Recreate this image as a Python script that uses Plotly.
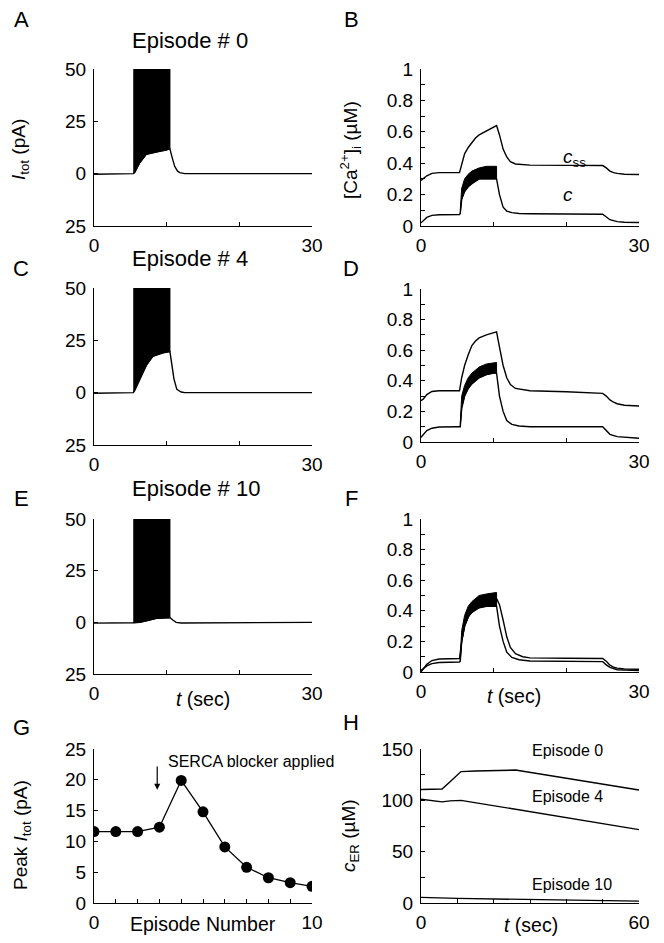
import plotly.graph_objects as go

# ------------------------------------------------------------------ data
# Panels A, C, E : total current I_tot (pA) vs time t (sec)
t_I_A = [0, 5.3, 5.4, 5.6, 6.3, 7.2, 8.6, 10.0, 10.45, 10.7, 11.1, 11.5, 11.8, 12.5, 25.0, 25.2, 30.0]
I_A = [-0.3, -0.3, 0, 0.5, 5.2, 9.2, 10.3, 11.2, 11.9, 8.4, 3.5, 1.2, 0.5, 0, 0, 0, 0]
burst_t_A = [5.4, 5.6, 6.3, 7.2, 8.6, 10.0, 10.45]
burst_trough_A = [0, 0.5, 5.2, 9.2, 10.3, 11.2, 11.9]
burst_peak_A = [60, 60, 60, 60, 60, 60, 60]

t_I_C = [0, 5.3, 5.4, 5.6, 6.3, 7.2, 8.1, 9.5, 10.45, 10.7, 11.0, 11.4, 12.0, 12.5, 25.0, 25.2, 30.0]
I_C = [-0.3, -0.3, 0, 1.0, 6.6, 13.0, 17.4, 19.0, 19.6, 14.5, 6.6, 1.6, 0.3, 0, 0, 0, 0]
burst_t_C = [5.4, 5.6, 6.3, 7.2, 8.1, 9.5, 10.45]
burst_trough_C = [0, 1.0, 6.6, 13.0, 17.4, 19.0, 19.6]
burst_peak_C = [60, 60, 60, 60, 60, 60, 60]

t_I_E = [0, 5.3, 5.4, 6.3, 7.2, 8.6, 10.0, 10.45, 10.9, 11.3, 12.0, 25.0, 25.2, 30.0]
I_E = [-0.4, -0.4, -0.2, 0, 0.6, 1.9, 2.2, 2.2, 1.0, 0, -0.3, -0.3, 0, 0]
burst_t_E = [5.4, 6.3, 7.2, 8.6, 10.0, 10.45]
burst_trough_E = [-0.2, 0, 0.6, 1.9, 2.2, 2.2]
burst_peak_E = [60, 60, 60, 60, 60, 60]

# Panels B, D, F : [Ca2+]i (uM) vs time t (sec)
t_css = [0, 0.3, 0.8, 1.5, 2.5, 5.3, 5.6, 6.0, 6.5, 7.0, 7.5, 8.0, 9.0, 10.0, 10.4, 10.8,
         11.3, 11.8, 12.3, 13.0, 14.0, 15.0, 20.0, 25.0, 25.5, 26.0, 26.5, 27.0, 28.0, 30.0]
css_B = [0.29, 0.30, 0.32, 0.335, 0.34, 0.34, 0.40, 0.46, 0.50, 0.53, 0.56, 0.58, 0.605, 0.625, 0.64, 0.58,
         0.49, 0.44, 0.41, 0.395, 0.39, 0.388, 0.386, 0.385, 0.37, 0.35, 0.34, 0.335, 0.33, 0.328]
css_D = [0.27, 0.28, 0.31, 0.33, 0.335, 0.335, 0.42, 0.50, 0.57, 0.63, 0.66, 0.68, 0.70, 0.715, 0.72, 0.62,
         0.50, 0.42, 0.375, 0.35, 0.34, 0.335, 0.328, 0.318, 0.30, 0.275, 0.26, 0.25, 0.24, 0.235]
css_F = [0.0, 0.02, 0.05, 0.075, 0.085, 0.088, 0.20, 0.30, 0.36, 0.40, 0.42, 0.44, 0.46, 0.47, 0.48, 0.44,
         0.34, 0.23, 0.16, 0.12, 0.10, 0.092, 0.09, 0.088, 0.07, 0.045, 0.032, 0.025, 0.02, 0.018]

t_c = [0, 0.3, 0.8, 1.5, 2.5, 5.3, 5.4, 5.6, 6.0, 6.5, 7.0, 8.0, 9.0, 10.0, 10.4, 10.8,
       11.3, 11.8, 12.5, 13.5, 15.0, 25.0, 25.4, 26.0, 27.0, 28.0, 30.0]
c_B = [0.02, 0.035, 0.055, 0.068, 0.072, 0.073, 0.08, 0.17, 0.22, 0.25, 0.27, 0.30, 0.30, 0.30, 0.30, 0.20,
       0.12, 0.095, 0.085, 0.08, 0.078, 0.075, 0.06, 0.04, 0.028, 0.024, 0.022]
c_D = [0.03, 0.05, 0.075, 0.09, 0.098, 0.10, 0.10, 0.22, 0.30, 0.35, 0.38, 0.42, 0.44, 0.45, 0.45, 0.30,
       0.20, 0.14, 0.115, 0.105, 0.10, 0.10, 0.08, 0.05, 0.035, 0.03, 0.025]
c_F = [0.01, 0.02, 0.04, 0.055, 0.062, 0.065, 0.07, 0.20, 0.30, 0.36, 0.39, 0.42, 0.43, 0.43, 0.43, 0.30,
       0.20, 0.13, 0.095, 0.08, 0.072, 0.068, 0.05, 0.03, 0.015, 0.012, 0.01]

# oscillation envelope of c during the burst
band_t = [5.4, 5.6, 6.0, 6.5, 7.0, 8.0, 9.0, 10.0, 10.4]
c_hi_B = [0.10, 0.24, 0.30, 0.33, 0.35, 0.37, 0.38, 0.38, 0.38]
c_lo_B = [0.08, 0.17, 0.22, 0.25, 0.27, 0.30, 0.30, 0.30, 0.30]
c_hi_D = [0.12, 0.30, 0.37, 0.42, 0.45, 0.49, 0.51, 0.52, 0.52]
c_lo_D = [0.10, 0.22, 0.30, 0.35, 0.38, 0.42, 0.44, 0.45, 0.45]
c_hi_F = [0.09, 0.27, 0.37, 0.43, 0.46, 0.50, 0.51, 0.52, 0.52]
c_lo_F = [0.07, 0.20, 0.30, 0.36, 0.39, 0.42, 0.43, 0.43, 0.43]

# Panel G : peak I_tot per episode
episodes = [0, 1, 2, 3, 4, 5, 6, 7, 8, 9, 10]
peak_I = [11.6, 11.6, 11.6, 12.3, 19.9, 14.8, 9.1, 5.8, 4.1, 3.3, 2.7]

# Panel H : c_ER (uM) vs time
t_ep0 = [0, 5.8, 8, 11, 15, 26, 60]
cER_ep0 = [110.5, 111, 118, 128, 128.5, 129.5, 110]
t_ep4 = [0, 3, 5.8, 8, 11, 60]
cER_ep4 = [101, 99.5, 98.5, 99.5, 100, 71.5]
t_ep10 = [0, 10, 60]
cER_ep10 = [5.5, 4.5, 1.8]

# tick labels (labelled ticks) and unlabelled minor ticks
I_ticks = [-25, 0, 25, 50]
I_ticktext = ["25", "0", "25", "50"]
t30_ticks = [0, 30]
t30_ticktext = ["0", "30"]
t30_minor = [10, 20]
ca_ticks = [0, 0.2, 0.4, 0.6, 0.8, 1]
ca_ticktext = ["0", "0.2", "0.4", "0.6", "0.8", "1"]
ca_minor = [0.1, 0.3, 0.5, 0.7, 0.9]
ep_ticks = [0, 10]
ep_ticktext = ["0", "10"]
ep_minor = [1, 2, 3, 4, 5, 6, 7, 8, 9]
peak_ticks = [0, 5, 10, 15, 20, 25]
t60_ticks = [0, 60]
t60_ticktext = ["0", "60"]
t60_minor = [10, 20, 30, 40, 50]
cer_ticks = [0, 50, 100, 150]
cer_minor = [25, 75, 125]

# ------------------------------------------------------------------ layout helpers
W, H = 664, 943
FONT = "Liberation Sans, Arial, Helvetica, sans-serif"
TICK_FS = 19


def px_x(p):
    return p / W


def px_y(p):
    return 1 - p / H


# pixel boxes (left, right, top, bottom)
boxes = {
    "A": (94, 312, 69, 226),
    "B": (421, 639, 69, 226),
    "C": (94, 312, 288, 445),
    "D": (421, 639, 289, 442),
    "E": (94, 312, 519, 674),
    "F": (421, 639, 519, 672),
    "G": (94, 312, 749, 903),
    "H": (421, 639, 749, 903),
}
axis_ids = {"A": "", "B": "2", "C": "3", "D": "4", "E": "5", "F": "6", "G": "7", "H": "8"}


def minor_ticks(vals):
    return dict(tickmode="array", tickvals=vals, ticks="inside", ticklen=4,
                tickwidth=1, tickcolor="black", showgrid=False)


def make_x(panel, rng, tickvals, ticktext, minor=None):
    l, r, t, b = boxes[panel]
    d = dict(domain=[px_x(l), px_x(r)], range=rng, anchor="y" + axis_ids[panel],
             tickmode="array", tickvals=tickvals, ticktext=ticktext,
             ticks="inside", ticklen=4, tickwidth=1, tickcolor="black",
             showline=True, linecolor="black", linewidth=1, automargin=False,
             showgrid=False, zeroline=False, fixedrange=True, ticklabelstandoff=2,
             tickfont=dict(family=FONT, size=TICK_FS, color="black"))
    if minor is not None:
        d["minor"] = minor_ticks(minor)
    return d


def make_y(panel, rng, tickvals, ticktext, minor=None):
    l, r, t, b = boxes[panel]
    d = dict(domain=[px_y(b), px_y(t)], range=rng, anchor="x" + axis_ids[panel],
             tickmode="array", tickvals=tickvals, ticktext=ticktext,
             ticks="inside", ticklen=4, tickwidth=1, tickcolor="black",
             showline=True, linecolor="black", linewidth=1, automargin=False,
             showgrid=False, zeroline=False, fixedrange=True, ticklabelstandoff=3,
             tickfont=dict(family=FONT, size=TICK_FS, color="black"))
    if minor is not None:
        d["minor"] = minor_ticks(minor)
    return d


fig = go.Figure()
LINE = dict(color="black", width=1.4)


def ax(panel):
    return dict(xaxis="x" + axis_ids[panel], yaxis="y" + axis_ids[panel])


# I_tot panels
for panel, tt, ii, bt, btr, bpk in [("A", t_I_A, I_A, burst_t_A, burst_trough_A, burst_peak_A),
                                    ("C", t_I_C, I_C, burst_t_C, burst_trough_C, burst_peak_C),
                                    ("E", t_I_E, I_E, burst_t_E, burst_trough_E, burst_peak_E)]:
    fig.add_trace(go.Scatter(x=bt + bt[::-1], y=bpk + btr[::-1], mode="lines", fill="toself",
                             fillcolor="black", line=dict(color="black", width=1),
                             showlegend=False, hoverinfo="skip", **ax(panel)))
    fig.add_trace(go.Scatter(x=tt, y=ii, mode="lines", line=LINE, showlegend=False, **ax(panel)))

# Ca panels
for panel, css, cc, chi, clo in [("B", css_B, c_B, c_hi_B, c_lo_B),
                                 ("D", css_D, c_D, c_hi_D, c_lo_D),
                                 ("F", css_F, c_F, c_hi_F, c_lo_F)]:
    fig.add_trace(go.Scatter(x=t_css, y=css, mode="lines", line=LINE, showlegend=False, **ax(panel)))
    fig.add_trace(go.Scatter(x=t_c, y=cc, mode="lines", line=LINE, showlegend=False, **ax(panel)))
    fig.add_trace(go.Scatter(x=band_t + band_t[::-1], y=chi + clo[::-1], mode="lines", fill="toself",
                             fillcolor="black", line=dict(color="black", width=1),
                             showlegend=False, hoverinfo="skip", **ax(panel)))

# G
fig.add_trace(go.Scatter(x=episodes, y=peak_I, mode="lines+markers", line=dict(color="black", width=1.3),
                         marker=dict(color="black", size=11), showlegend=False, **ax("G")))

# H
for tt, vv in [(t_ep0, cER_ep0), (t_ep4, cER_ep4), (t_ep10, cER_ep10)]:
    fig.add_trace(go.Scatter(x=tt, y=vv, mode="lines", line=LINE, showlegend=False, **ax("H")))

layout = dict(width=W, height=H, margin=dict(l=0, r=0, t=0, b=0, pad=0), autosize=False,
              paper_bgcolor="white", plot_bgcolor="white",
              font=dict(family=FONT, color="black"), showlegend=False)

layout["xaxis"] = make_x("A", [0, 30], t30_ticks, t30_ticktext, t30_minor)
layout["yaxis"] = make_y("A", [-25, 50], I_ticks, I_ticktext)
layout["xaxis2"] = make_x("B", [0, 30], t30_ticks, t30_ticktext, t30_minor)
layout["yaxis2"] = make_y("B", [0, 1], ca_ticks, ca_ticktext, ca_minor)
layout["xaxis3"] = make_x("C", [0, 30], t30_ticks, t30_ticktext, t30_minor)
layout["yaxis3"] = make_y("C", [-25, 50], I_ticks, I_ticktext)
layout["xaxis4"] = make_x("D", [0, 30], t30_ticks, t30_ticktext, t30_minor)
layout["yaxis4"] = make_y("D", [0, 1], ca_ticks, ca_ticktext, ca_minor)
layout["xaxis5"] = make_x("E", [0, 30], t30_ticks, t30_ticktext, t30_minor)
layout["yaxis5"] = make_y("E", [-25, 50], I_ticks, I_ticktext)
layout["xaxis6"] = make_x("F", [0, 30], t30_ticks, t30_ticktext, t30_minor)
layout["yaxis6"] = make_y("F", [0, 1], ca_ticks, ca_ticktext, ca_minor)
layout["xaxis7"] = make_x("G", [0, 10], ep_ticks, ep_ticktext, ep_minor)
layout["yaxis7"] = make_y("G", [0, 25], peak_ticks, [str(v) for v in peak_ticks])
layout["xaxis8"] = make_x("H", [0, 60], t60_ticks, t60_ticktext, t60_minor)
layout["yaxis8"] = make_y("H", [0, 150], cer_ticks, [str(v) for v in cer_ticks], cer_minor)

ann = []


def paper_text(text, x, y, size, xanchor="center", angle=0):
    ann.append(dict(text=text, x=px_x(x), y=px_y(y), xref="paper", yref="paper",
                    xanchor=xanchor, yanchor="middle", showarrow=False, textangle=angle,
                    font=dict(family=FONT, size=size, color="black")))


# panel letters
for letter, (x, y) in {"A": (21, 19), "B": (351, 19), "C": (21, 268), "D": (351, 268),
                       "E": (21, 498), "F": (351, 498), "G": (21, 727), "H": (351, 722)}.items():
    paper_text(letter, x, y, 22)

# episode titles
paper_text("Episode # 0", 130, 40, 22, xanchor="left")
paper_text("Episode # 4", 130, 258, 22, xanchor="left")
paper_text("Episode # 10", 130, 488, 22, xanchor="left")

# axis titles
paper_text("<i>I</i><sub>tot</sub> (pA)", 20, 150, 19, angle=-90)
paper_text("[Ca<sup>2+</sup>]<sub>i</sub> (µM)", 351, 150, 19, angle=-90)
paper_text("Peak <i>I</i><sub>tot</sub> (pA)", 22, 835, 19, angle=-90)
paper_text("<i>c</i><sub>ER</sub> (µM)", 350, 836, 19, angle=-90)
paper_text("<i>t</i> (sec)", 203, 699, 19.5)
paper_text("<i>t</i> (sec)", 514, 696, 19.5)
paper_text("Episode Number", 203, 924, 19.5)
paper_text("<i>t</i> (sec)", 531, 925, 19.5)

# in-plot labels
ann.append(dict(text="<i>c</i><sub>ss</sub>", x=19.3, y=0.43, xref="x2", yref="y2", xanchor="left",
                yanchor="middle", showarrow=False, font=dict(family=FONT, size=19, color="black")))
ann.append(dict(text="<i>c</i>", x=19.3, y=0.2, xref="x2", yref="y2", xanchor="left",
                yanchor="middle", showarrow=False, font=dict(family=FONT, size=19, color="black")))
for txt, yv in [("Episode 0", 149), ("Episode 4", 104), ("Episode 10", 18)]:
    ann.append(dict(text=txt, x=30, y=yv, xref="x8", yref="y8", xanchor="left", yanchor="middle",
                    showarrow=False, font=dict(family=FONT, size=16, color="black")))
ann.append(dict(text="SERCA blocker applied", x=3.3, y=23.0, xref="x7", yref="y7", xanchor="left",
                yanchor="middle", showarrow=False, font=dict(family=FONT, size=16, color="black")))
ann.append(dict(text="", x=2.9, y=18.4, xref="x7", yref="y7", ax=2.9, ay=22.4, axref="x7", ayref="y7",
                showarrow=True, arrowhead=2, arrowsize=1, arrowwidth=1.2, arrowcolor="black"))

layout["annotations"] = ann
fig.update_layout(**layout)
fig.write_html("out.html", config={"displayModeBar": False, "staticPlot": True},
               post_script="document.body.style.margin='0px';"
                           "document.documentElement.style.overflow='hidden';"
                           "document.body.style.overflow='hidden';")
